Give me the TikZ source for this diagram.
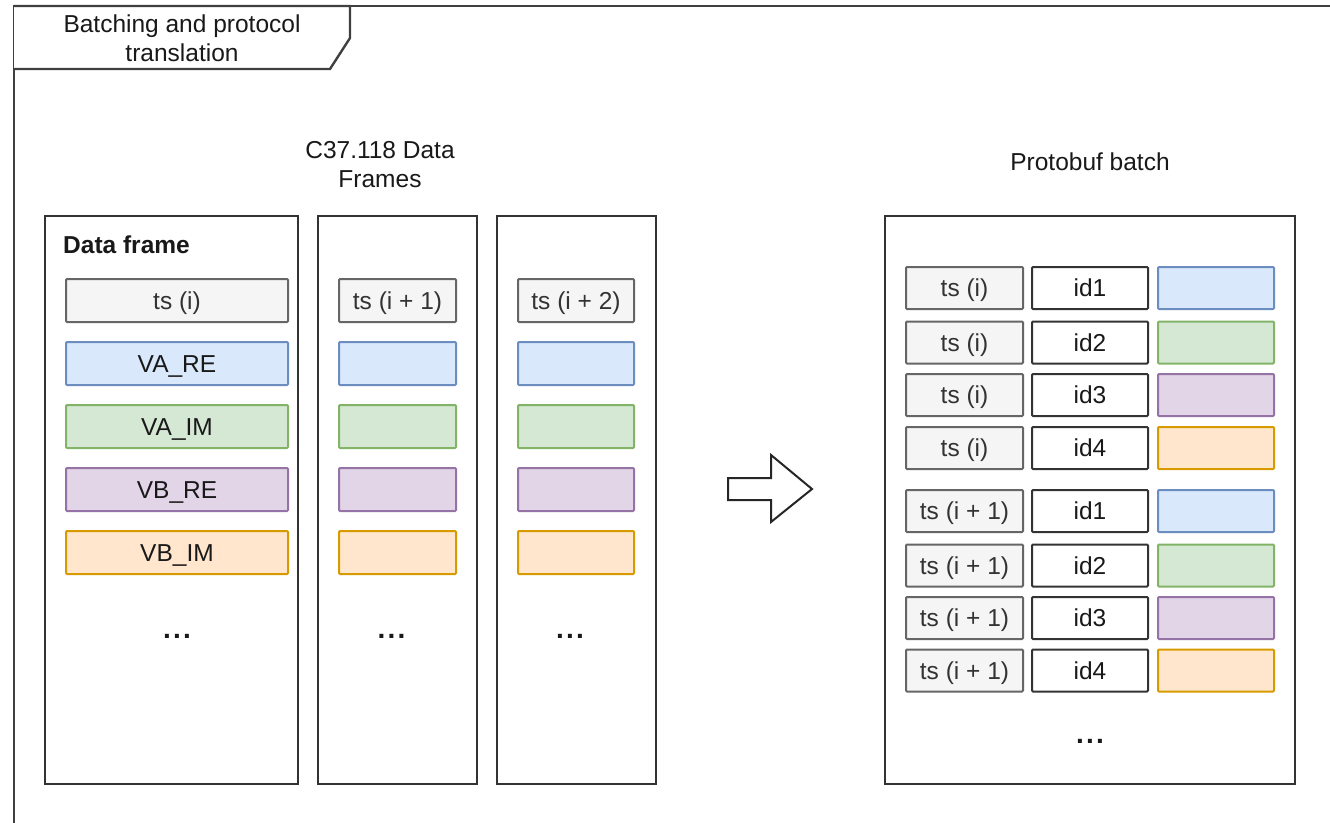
\documentclass[tikz,border=0pt]{standalone}
\usepackage{fontspec}
\setmainfont{Liberation Sans}
\definecolor{grayf}{HTML}{F5F5F5}
\definecolor{grayd}{HTML}{666666}
\definecolor{bluef}{HTML}{DAE8FC}
\definecolor{blued}{HTML}{6C8EBF}
\definecolor{greenf}{HTML}{D5E8D4}
\definecolor{greend}{HTML}{82B366}
\definecolor{purplef}{HTML}{E1D5E7}
\definecolor{purpled}{HTML}{9673A6}
\definecolor{orangef}{HTML}{FFE6CC}
\definecolor{oranged}{HTML}{D79B00}
\definecolor{framec}{HTML}{333333}
\newcommand{\threedots}{.\kern2.2pt.\kern2.2pt.}
\begin{document}
\begin{tikzpicture}[x=1pt,y=-1pt,
  every node/.style={font=\fontsize{24.5}{29}\selectfont, inner sep=0pt, text=black!90},
  cell/.style={draw, line width=2pt, rounded corners=1pt, minimum height=43pt, text height=17.5pt, text depth=0pt},
  tsbox/.style={cell, fill=grayf, draw=grayd, text=black!80},
  bluebox/.style={cell, fill=bluef, draw=blued},
  greenbox/.style={cell, fill=greenf, draw=greend},
  purplebox/.style={cell, fill=purplef, draw=purpled},
  orangebox/.style={cell, fill=orangef, draw=oranged},
  idbox/.style={cell, fill=white, draw=framec},
  bigbox/.style={draw=framec, line width=2.4pt, minimum width=#1, minimum height=568pt},
  dots/.style={anchor=base, font=\fontsize{28}{30}\selectfont\bfseries}
]
\useasboundingbox (0,0) rectangle (1330,822);
\clip (0,0) rectangle (1330,822);
\fill[white] (0,0) rectangle (1330,822);

% outer frame
\draw[draw=black!75, line width=2.4pt] (14,830) -- (14,6) -- (1340,6);
\draw[draw=black!75, line width=2.4pt, fill=white] (14,6) -- (350,6) -- (350,38) -- (330,69) -- (14,69);
\node[align=center] (title) at (182,38) {Batching and protocol\\translation};

% headings
\node[align=center] (c37) at (380,165) {C37.118 Data\\Frames};
\node[text height=17.5pt, text depth=0pt] (pbt) at (1090,162) {Protobuf batch};

% big columns
\node[bigbox=253pt] (col1) at (171.5,500) {};
\node[bigbox=159pt] (col2) at (397.5,500) {};
\node[bigbox=159pt] (col3) at (576.5,500) {};
\node[bigbox=410pt] (pb) at (1090,500) {};

\node[anchor=west, text height=17.5pt, text depth=0pt, font=\fontsize{24.5}{29}\selectfont\bfseries] (df) at (63,244.5) {Data frame};

% column 1
\node[tsbox, minimum width=222pt] (a1) at (177,300.5) {ts (i)};
\node[bluebox, minimum width=222pt] (a2) at (177,363.5) {VA\_RE};
\node[greenbox, minimum width=222pt] (a3) at (177,426.5) {VA\_IM};
\node[purplebox, minimum width=222pt] (a4) at (177,489.5) {VB\_RE};
\node[orangebox, minimum width=222pt] (a5) at (177,552.5) {VB\_IM};
\node[dots] (ad) at (177,638.5) {\threedots};

% column 2
\node[tsbox, minimum width=117pt] (b1) at (397.5,300.5) {ts (i + 1)};
\node[bluebox, minimum width=117pt] (b2) at (397.5,363.5) {};
\node[greenbox, minimum width=117pt] (b3) at (397.5,426.5) {};
\node[purplebox, minimum width=117pt] (b4) at (397.5,489.5) {};
\node[orangebox, minimum width=117pt] (b5) at (397.5,552.5) {};
\node[dots] (bd) at (391.5,638.5) {\threedots};

% column 3
\node[tsbox, minimum width=116pt] (c1) at (576,300.5) {ts (i + 2)};
\node[bluebox, minimum width=116pt] (c2) at (576,363.5) {};
\node[greenbox, minimum width=116pt] (c3) at (576,426.5) {};
\node[purplebox, minimum width=116pt] (c4) at (576,489.5) {};
\node[orangebox, minimum width=116pt] (c5) at (576,552.5) {};
\node[dots] (cd) at (570,638.5) {\threedots};

% arrow
\draw[draw=black!85, line width=2pt, fill=white, line join=miter]
  (728,478) -- (771,478) -- (771,455) -- (812,489) -- (771,522) -- (771,500) -- (728,500) -- cycle;

% protobuf rows
\foreach \y/\t/\i/\s in {288/ts (i)/id1/bluebox, 342.5/ts (i)/id2/greenbox, 395/ts (i)/id3/purplebox, 448/ts (i)/id4/orangebox,
  511/ts (i + 1)/id1/bluebox, 565.5/ts (i + 1)/id2/greenbox, 618/ts (i + 1)/id3/purplebox, 670.5/ts (i + 1)/id4/orangebox}{
  \node[tsbox, minimum width=117pt, minimum height=42pt] (p-ts-\y) at (964.5,\y) {\t};
  \node[idbox, minimum width=116pt, minimum height=42pt] (p-id-\y) at (1090,\y) {\i};
  \node[\s, minimum width=116pt, minimum height=42pt] (p-v-\y) at (1216,\y) {};
}
\node[dots] (pd) at (1090,743) {\threedots};
\end{tikzpicture}
\end{document}
